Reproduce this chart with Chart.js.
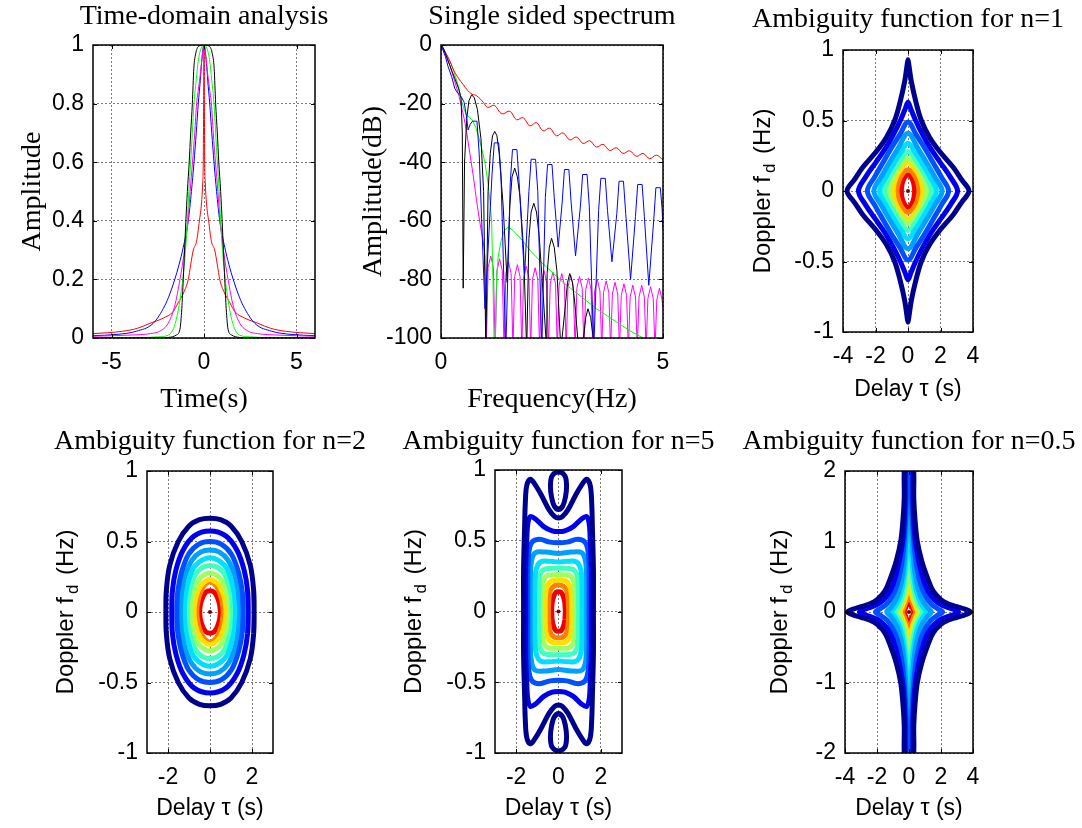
<!DOCTYPE html>
<html><head><meta charset="utf-8">
<script src="https://cdn.jsdelivr.net/npm/chart.js@4.4.1/dist/chart.umd.min.js"></script>
<style>
html,body{margin:0;padding:0;background:#fff;}
body{width:1082px;height:828px;position:relative;overflow:hidden;}
canvas{position:absolute;}
</style></head><body>
<canvas id="p1"></canvas><canvas id="p2"></canvas><canvas id="p3"></canvas>
<canvas id="p4"></canvas><canvas id="p5"></canvas><canvas id="p6"></canvas>
<script>
// ---------------- DATA ----------------
// Panel 1: time-domain pulses (right half, t >= 0; the pulses are even in t)
const tdTicksX = [-5, 0, 5];
const tdTicksY = [0, 0.2, 0.4, 0.6, 0.8, 1];
const tdBlack   = [[0,1],[0.3,0.995],[0.45,0.97],[0.55,0.92],[0.63,0.8],[0.72,0.7],[0.8,0.6],[0.9,0.5],[0.98,0.4],[1.05,0.3],[1.12,0.2],[1.2,0.1],[1.3,0.03],[1.5,0.01],[1.9,0.002],[2.5,0],[6,0]];
const tdGreen   = [[0,1],[0.15,0.99],[0.3,0.95],[0.42,0.88],[0.54,0.8],[0.63,0.7],[0.72,0.6],[0.82,0.5],[0.9,0.4],[1.0,0.3],[1.15,0.2],[1.35,0.11],[1.55,0.05],[1.75,0.02],[2.0,0.008],[2.5,0.004],[3.5,0.001],[6,0]];
const tdMagenta = [[0,1],[0.1,0.96],[0.2,0.9],[0.3,0.85],[0.4,0.8],[0.5,0.7],[0.62,0.6],[0.75,0.5],[0.87,0.4],[1.05,0.3],[1.3,0.2],[1.58,0.11],[1.94,0.05],[2.4,0.023],[2.9,0.015],[4,0.01],[6,0.006]];
const tdBlue    = [[0,1],[0.13,0.94],[0.2,0.88],[0.31,0.8],[0.42,0.7],[0.54,0.6],[0.68,0.5],[0.85,0.4],[1.12,0.31],[1.35,0.25],[1.58,0.2],[1.85,0.15],[2.12,0.11],[2.75,0.05],[3.66,0.023],[4.75,0.012],[6,0.008]];
const tdRed     = [[0,1],[0.02,0.8],[0.04,0.6],[0.07,0.53],[0.15,0.45],[0.25,0.4],[0.4,0.33],[0.58,0.3],[0.72,0.25],[0.85,0.2],[1.1,0.155],[1.4,0.12],[1.67,0.09],[2.2,0.068],[2.93,0.05],[3.6,0.033],[4.4,0.023],[5.2,0.018],[6,0.015]];

// Panel 2: single sided spectrum [f (Hz), dB]
const spTicksX = [0, 5];
const spTicksY = [-100, -80, -60, -40, -20, 0];
const spRed = [[0,0],[0.1,-2.5],[0.2,-5.5],[0.3,-9],[0.4,-11.5],[0.5,-13.5],[0.6,-15.5],[0.7,-16.8],[0.8,-17.3],[0.95,-19.5],[1.05,-21.3],[1.2,-20.6],[1.37,-23.5],[1.55,-22.6],[1.7,-25.5],[1.85,-24.8],[2.0,-27.6],[2.15,-26.5],[2.3,-29.3],[2.45,-28.4],[2.6,-31],[2.75,-30],[2.9,-32.4],[3.05,-31.4],[3.2,-33.6],[3.35,-32.7],[3.5,-34.8],[3.65,-33.9],[3.8,-36],[3.95,-35.1],[4.1,-37],[4.25,-36.1],[4.4,-38],[4.55,-37],[4.7,-38.8],[4.85,-37.6],[5.0,-39.2]];
const spBlue = [[0,0],[0.05,-2],[0.1,-4],[0.16,-7.4],[0.24,-10.8],[0.31,-14.8],[0.38,-16.5],[0.45,-17.5],[0.52,-19.5],[0.57,-24],[0.61,-29],
 [0.66,-27],[0.71,-26],[0.81,-26],[0.86,-37],[0.99,-90],
 [1.15,-44],[1.2,-33.4],[1.3,-33.4],[1.35,-44],[1.46,-104],
 [1.56,-47],[1.61,-35.7],[1.71,-35.7],[1.76,-47],[1.88,-79],
 [1.98,-50],[2.03,-39],[2.13,-39],[2.18,-50],[2.27,-104],
 [2.35,-52],[2.4,-40.8],[2.5,-40.8],[2.55,-52],[2.64,-69],
 [2.73,-53.5],[2.78,-42.5],[2.88,-42.5],[2.93,-53.5],[3.03,-72],
 [3.14,-55],[3.19,-44.2],[3.29,-44.2],[3.34,-55],[3.44,-104],
 [3.55,-56.5],[3.6,-45.5],[3.7,-45.5],[3.75,-56.5],[3.85,-74],
 [3.96,-57.5],[4.01,-46.5],[4.11,-46.5],[4.16,-57.5],[4.27,-80],
 [4.38,-58.5],[4.43,-47.6],[4.53,-47.6],[4.58,-58.5],[4.68,-82],
 [4.79,-60],[4.84,-48.7],[4.94,-48.7],[4.98,-56],[5.0,-63]];
const spBlack = [[0,0],[0.05,-1],[0.1,-3],[0.15,-5],[0.2,-7],[0.25,-9],[0.3,-11],[0.35,-13],[0.4,-15],[0.45,-18],[0.48,-30],[0.5,-83],[0.53,-40],[0.58,-25],[0.63,-19],[0.69,-17],[0.75,-18],[0.82,-22],[0.9,-32],[0.96,-50],[1.01,-104],
 [1.06,-50],[1.11,-37],[1.16,-31],[1.21,-29.5],[1.26,-31],[1.31,-37],[1.4,-55],[1.49,-81],
 [1.55,-55],[1.6,-45],[1.66,-42],[1.72,-45],[1.78,-52],[1.86,-70],[1.93,-104],
 [1.98,-66],[2.03,-57],[2.09,-54],[2.15,-57],[2.21,-65],[2.3,-85],[2.38,-104],
 [2.39,-78],[2.44,-69],[2.49,-66],[2.55,-69],[2.61,-77],[2.7,-104],
 [2.8,-89],[2.85,-81],[2.9,-78],[2.96,-81],[3.02,-89],[3.1,-104],
 [3.21,-100],[3.26,-93],[3.31,-90],[3.37,-93],[3.43,-100],[3.5,-110]];
const spGreen = [[0,0],[0.05,-1],[0.1,-2.5],[0.2,-5.5],[0.3,-9.5],[0.4,-14.5],[0.46,-19],[0.52,-22],[0.58,-24],[0.64,-24.7],[0.7,-25.5],[0.78,-28],[0.86,-32],[0.93,-36],[0.99,-40.3],[1.05,-46],[1.1,-53],[1.14,-60],[1.17,-80],[1.2,-104],[1.22,-104],[1.25,-80],[1.29,-72],[1.35,-67],[1.42,-63.5],[1.51,-62],[1.58,-62.8],[1.7,-64.5],[1.85,-67],[2.0,-70],[2.25,-74],[2.5,-77.5],[2.75,-81],[3.0,-84],[3.25,-87],[3.5,-90],[3.75,-92.5],[4.0,-95],[4.25,-97.5],[4.55,-100],[4.7,-102]];
const spMagenta = [[0,0],[0.05,-1.5],[0.1,-3],[0.2,-7],[0.3,-12],[0.4,-17],[0.46,-21],[0.52,-25],[0.58,-30],[0.65,-37],[0.73,-45],[0.8,-53],[0.88,-61],[0.95,-67],[0.99,-72],[1.02,-104],
 [1.06,-76],[1.12,-72],[1.18,-76],[1.22,-104],
 [1.26,-77],[1.32,-73],[1.38,-77],[1.42,-104],
 [1.46,-78],[1.52,-74],[1.58,-78],[1.62,-104],
 [1.66,-79],[1.72,-75],[1.78,-79],[1.82,-104],
 [1.86,-79.5],[1.92,-75.5],[1.98,-79.5],[2.02,-104],
 [2.06,-80],[2.12,-76],[2.18,-80],[2.22,-104],
 [2.26,-81],[2.32,-77],[2.38,-81],[2.42,-104],
 [2.46,-81.5],[2.52,-77.5],[2.58,-81.5],[2.62,-104],
 [2.66,-82],[2.72,-78],[2.78,-82],[2.82,-104],
 [2.86,-82.5],[2.92,-78.5],[2.98,-82.5],[3.02,-104],
 [3.06,-83],[3.12,-79],[3.18,-83],[3.22,-104],
 [3.26,-83.5],[3.32,-79.5],[3.38,-83.5],[3.42,-104],
 [3.46,-84],[3.52,-80],[3.58,-84],[3.62,-104],
 [3.66,-84.5],[3.72,-80.5],[3.78,-84.5],[3.82,-104],
 [3.86,-85],[3.92,-81],[3.98,-85],[4.02,-104],
 [4.06,-85.5],[4.12,-81.5],[4.18,-85.5],[4.22,-104],
 [4.26,-86],[4.32,-82],[4.38,-86],[4.42,-104],
 [4.46,-86],[4.52,-82],[4.58,-86],[4.62,-104],
 [4.66,-86.5],[4.72,-82.5],[4.78,-86.5],[4.82,-104],
 [4.86,-87],[4.92,-83],[4.98,-87],[5.0,-90]];

// Ambiguity contours: first-quadrant traces (from the tau axis to the Doppler axis),
// outermost level first; each contour is symmetric in tau and f_d.
const contourColors = ['#00008F','#0000EF','#0050FF','#00A0FF','#00DFFF','#40FFBF','#9FFF60','#FFDF00','#FF8000','#F00000'];
const amb1 = [
 [[3.75,0],[3.3,0.08],[2.77,0.17],[1.95,0.28],[1.33,0.38],[0.82,0.5],[0.47,0.64],[0.2,0.78],[0.06,0.89],[0,0.93]],
 [[3.05,0],[2.6,0.1],[2.0,0.2],[1.4,0.3],[0.9,0.4],[0.47,0.5],[0.18,0.58],[0,0.63]],
 [[2.5,0],[2.05,0.1],[1.55,0.2],[1.05,0.3],[0.5,0.4],[0,0.49]],
 [[2.1,0],[1.65,0.1],[1.15,0.2],[0.62,0.3],[0,0.41]],
 [[1.75,0],[1.35,0.1],[0.85,0.2],[0.4,0.28],[0,0.34]],
 [[1.45,0],[1.12,0.1],[0.65,0.19],[0.3,0.25],[0,0.28]],
 [[1.17,0],[0.93,0.1],[0.5,0.18],[0,0.23]],
 [[0.92,0],[0.76,0.09],[0.4,0.16],[0,0.2]],
 [[0.68,0],[0.57,0.07],[0.32,0.125],[0,0.15]],
 [[0.41,0],[0.35,0.055],[0.2,0.097],[0,0.116]]
];
const amb2 = [
 [[2.1,0],[2.08,0.15],[1.92,0.33],[1.51,0.5],[1.0,0.61],[0.5,0.655],[0,0.665]],
 [[1.82,0],[1.79,0.15],[1.62,0.3],[1.28,0.44],[0.75,0.54],[0,0.575]],
 [[1.58,0],[1.54,0.14],[1.36,0.28],[1.02,0.41],[0.55,0.48],[0,0.5]],
 [[1.41,0],[1.36,0.13],[1.18,0.26],[0.85,0.37],[0.45,0.425],[0,0.44]],
 [[1.22,0],[1.17,0.12],[1.0,0.23],[0.7,0.33],[0,0.385]],
 [[1.09,0],[1.04,0.1],[0.87,0.2],[0.58,0.29],[0,0.33]],
 [[0.93,0],[0.88,0.09],[0.72,0.17],[0.47,0.24],[0,0.276]],
 [[0.76,0],[0.71,0.08],[0.57,0.15],[0.36,0.2],[0,0.23]],
 [[0.63,0],[0.58,0.07],[0.45,0.14],[0.27,0.19],[0,0.214]],
 [[0.49,0],[0.46,0.05],[0.36,0.1],[0.2,0.14],[0,0.15]]
];
const amb5 = [
 [[1.65,0],[1.65,0.3],[1.6,0.6],[1.57,0.76],[1.5,0.89],[1.33,0.935],[1.12,0.9],[0.8,0.82],[0.45,0.72],[0.18,0.67],[0,0.66]],
 [[1.55,0],[1.55,0.3],[1.5,0.5],[1.45,0.62],[1.33,0.67],[1.1,0.655],[0.7,0.6],[0.3,0.57],[0,0.565]],
 [[1.45,0],[1.45,0.25],[1.4,0.42],[1.25,0.49],[0.9,0.51],[0.4,0.49],[0,0.485]],
 [[1.33,0],[1.33,0.2],[1.28,0.35],[1.1,0.415],[0.6,0.42],[0,0.41]],
 [[1.12,0],[1.12,0.18],[1.05,0.3],[0.85,0.35],[0.4,0.355],[0,0.35]],
 [[0.95,0],[0.94,0.15],[0.87,0.26],[0.65,0.3],[0,0.305]],
 [[0.79,0],[0.78,0.13],[0.7,0.22],[0.5,0.255],[0,0.26]],
 [[0.63,0],[0.62,0.1],[0.54,0.18],[0.35,0.215],[0,0.222]],
 [[0.48,0],[0.46,0.08],[0.38,0.15],[0.22,0.18],[0,0.187]],
 [[0.32,0],[0.3,0.06],[0.22,0.11],[0.12,0.135],[0,0.14]]
];
const amb5Island = [[0,0.72],[0.2,0.745],[0.33,0.81],[0.38,0.89],[0.3,0.96],[0,0.985]]; // right half of the small loop near f_d = +/-0.85
const amb05 = [
 [[3.85,0],[3.5,0.04],[3.0,0.075],[2.4,0.12],[1.97,0.18],[1.5,0.3],[1.16,0.48],[0.8,0.72],[0.52,1.0],[0.38,1.3],[0.3,1.6],[0.26,2.1],[0,2.1]],
 [[3.1,0],[2.8,0.035],[2.3,0.075],[1.8,0.13],[1.4,0.22],[1.05,0.36],[0.75,0.58],[0.5,0.85],[0.35,1.1],[0.25,1.5],[0.2,2.1],[0,2.1]],
 [[2.1,0],[1.8,0.045],[1.4,0.11],[1.05,0.22],[0.75,0.38],[0.5,0.62],[0.35,0.88],[0.24,1.2],[0.16,1.6],[0.13,2.1],[0,2.1]],
 [[1.4,0],[1.15,0.06],[0.85,0.16],[0.6,0.3],[0.4,0.52],[0.27,0.78],[0.18,1.1],[0.11,1.45],[0,1.6]],
 [[1.1,0],[0.88,0.07],[0.63,0.18],[0.43,0.33],[0.28,0.54],[0.17,0.8],[0.09,1.05],[0,1.15]],
 [[0.88,0],[0.68,0.09],[0.45,0.2],[0.28,0.38],[0.15,0.6],[0,0.8]],
 [[0.7,0],[0.52,0.09],[0.33,0.2],[0.18,0.36],[0,0.55]],
 [[0.55,0],[0.42,0.08],[0.25,0.18],[0.12,0.28],[0,0.36]],
 [[0.42,0],[0.3,0.07],[0.17,0.15],[0,0.24]],
 [[0.3,0],[0.22,0.055],[0.12,0.11],[0,0.16]]
];
const ambTicks4 = [-4, -2, 0, 2, 4];
const ambTicks2 = [-2, 0, 2];
const ambTicksY1 = [-1, -0.5, 0, 0.5, 1];
const ambTicksY2 = [-2, -1, 0, 1, 2];

const titles = ['Time-domain analysis','Single sided spectrum','Ambiguity function for n=1','Ambiguity function for n=2','Ambiguity function for n=5','Ambiguity function for n=0.5'];
const dopplerLabel = ['Doppler f', 'd', ' (Hz)'];
const delayLabel = 'Delay \u03C4 (s)';

// ---------------- HELPERS ----------------
const SERIF = '"Liberation Serif", "Times New Roman", serif';
const SANS = '"Liberation Sans", Arial, sans-serif';
const TITLE_SIZE = 28, TICK_SIZE = 23, SANS_LABEL = 23;
const GRID = '#7a7a7a';

function evenPulse(half) {
  const left = half.slice(1).reverse().map(([t, v]) => ({x: -t, y: v}));
  return left.concat(half.map(([t, v]) => ({x: t, y: v})));
}
function pairs(arr) { return arr.map(([x, y]) => ({x, y})); }
function wrapLoop(loop) { // repeat neighbours so the curve closes smoothly
  const n = loop.length;
  return [loop[n - 2]].concat(loop, [loop[1]]).map(([x, y]) => ({x, y}));
}
function quadLoop(q) {
  const q2 = q.slice(0, -1).reverse().map(([x, y]) => [-x, y]);
  const q3 = q.slice(1).map(([x, y]) => [-x, -y]);
  const q4 = q.slice(0, -1).reverse().map(([x, y]) => [x, -y]);
  return wrapLoop(q.concat(q2, q3, q4));
}
function halfLoopX(h, sy) {
  const right = h.map(([x, y]) => [x, sy * y]);
  const left = h.slice(1, -1).reverse().map(([x, y]) => [-x, sy * y]);
  return wrapLoop(right.concat(left, [right[0]]));
}
function lineDs(data, color, width, extra) {
  return Object.assign({data, borderColor: color, backgroundColor: color, borderWidth: width, showLine: true, pointRadius: 0, fill: false}, extra || {});
}
function contourSets(levels, extraLoops) {
  const ds = [];
  levels.forEach((q, i) => {
    ds.push(lineDs(quadLoop(q), contourColors[i], 5, {tension: 0.35, clip: 0}));
    if (i === 0 && extraLoops) extraLoops.forEach(l => ds.push(lineDs(l, contourColors[0], 5, {tension: 0.35, clip: 0})));
  });
  ds.push({data: [{x: 0, y: 0}], pointRadius: 2, pointBackgroundColor: '#800000', pointBorderWidth: 0, showLine: false});
  return ds;
}

const frame = {
  id: 'frame',
  afterDatasetsDraw(chart) {
    const {ctx, chartArea: a, scales} = chart;
    ctx.save();
    ctx.strokeStyle = '#000';
    ctx.lineWidth = 1;
    ctx.beginPath();
    const tl = 4;
    scales.x.ticks.forEach(t => {
      const px = Math.round(scales.x.getPixelForValue(t.value)) + 0.5;
      ctx.moveTo(px, a.bottom); ctx.lineTo(px, a.bottom - tl);
      ctx.moveTo(px, a.top); ctx.lineTo(px, a.top + tl);
    });
    scales.y.ticks.forEach(t => {
      const py = Math.round(scales.y.getPixelForValue(t.value)) + 0.5;
      ctx.moveTo(a.left, py); ctx.lineTo(a.left + tl, py);
      ctx.moveTo(a.right, py); ctx.lineTo(a.right - tl, py);
    });
    ctx.stroke();
    ctx.lineWidth = 1.5;
    ctx.strokeRect(a.left, a.top, a.right - a.left, a.bottom - a.top);
    ctx.restore();
  }
};
function dopplerPlugin(xc, size) {
  return {
    id: 'doppler',
    afterDraw(chart) {
      const {ctx, chartArea: a} = chart;
      ctx.save();
      ctx.translate(xc, (a.top + a.bottom) / 2);
      ctx.rotate(-Math.PI / 2);
      ctx.fillStyle = '#000';
      ctx.textBaseline = 'middle';
      ctx.textAlign = 'left';
      const big = size + 'px ' + SANS, small = Math.round(size * 0.7) + 'px ' + SANS;
      ctx.font = big;
      const w1 = ctx.measureText(dopplerLabel[0]).width, w3 = ctx.measureText(dopplerLabel[2]).width;
      ctx.font = small;
      const w2 = ctx.measureText(dopplerLabel[1]).width;
      const gap = 3;
      let x = -(w1 + w2 + w3 + 2 * gap) / 2;
      ctx.font = big; ctx.fillText(dopplerLabel[0], x, 0); x += w1 + gap;
      ctx.font = small; ctx.fillText(dopplerLabel[1], x, 7); x += w2 + gap;
      ctx.font = big; ctx.fillText(dopplerLabel[2], x, 0);
      ctx.restore();
    }
  };
}

function makePanel(id, p) {
  // side boxes are equal on both sides so the full-width title is centred over the plot
  const yw = Math.max(p.L - p.yTitleX + 20, 120);
  const cl = p.L - yw;
  const ylx = p.yTitleX - cl;           // y-label centre inside the canvas
  const W = p.R - p.L;
  const cw = 2 * yw + W;
  const ct = p.titleY - 24;
  const cb = p.xTitleY + 24;
  const ch = cb - ct;
  const xh = cb - p.B;
  const cv = document.getElementById(id);
  cv.width = cw; cv.height = ch;
  Object.assign(cv.style, {left: cl + 'px', top: ct + 'px', width: cw + 'px', height: ch + 'px'});
  const tLH = TITLE_SIZE * 1.2;
  const tTop = 24 - tLH / 2;
  const tBottom = (p.T - ct) - tLH - tTop;
  const axLH = p.axisSize * 1.2;
  const tickCfg = {color: '#000', font: {family: SANS, size: TICK_SIZE}, callback: v => String(v), maxRotation: 0, minRotation: 0, autoSkip: false};
  new Chart(cv, {
    type: 'scatter',
    data: {datasets: p.datasets},
    options: {
      responsive: false, animation: false, devicePixelRatio: 1,
      layout: {padding: 0},
      plugins: {
        legend: {display: false}, tooltip: {enabled: false},
        title: {display: true, text: p.title, fullSize: true, color: '#000', font: {family: SERIF, size: TITLE_SIZE, weight: 'normal'}, padding: {top: tTop, bottom: tBottom}}
      },
      scales: {
        x: {
          type: 'linear', position: 'bottom', min: p.xMin, max: p.xMax,
          afterBuildTicks: s => { s.ticks = p.xTicks.map(v => ({value: v})); },
          afterFit: s => { s.height = xh; },
          ticks: Object.assign({padding: 11}, tickCfg),
          grid: {color: GRID, lineWidth: 1, drawTicks: false},
          border: {display: false, dash: [2, 2]},
          title: {display: true, text: p.xTitle, color: '#000', font: {family: p.axisFont, size: p.axisSize}, padding: {top: 0, bottom: 24 - axLH / 2}}
        },
        y: {
          type: 'linear', position: 'left', min: p.yMin, max: p.yMax,
          afterBuildTicks: s => { s.ticks = p.yTicks.map(v => ({value: v})); },
          afterFit: s => { s.width = yw; },
          ticks: Object.assign({padding: 9}, tickCfg),
          grid: {color: GRID, lineWidth: 1, drawTicks: false},
          border: {display: false, dash: [2, 2]},
          title: p.yTitle ? {display: true, text: p.yTitle, color: '#000', font: {family: p.axisFont, size: p.axisSize}, padding: {top: ylx - axLH / 2, bottom: 0}} : {display: false}
        },
        yR: {
          type: 'linear', position: 'right', min: 0, max: 1,
          afterFit: s => { s.width = yw; },
          ticks: {display: false}, grid: {display: false}, border: {display: false}
        }
      }
    },
    plugins: [frame].concat(p.doppler ? [dopplerPlugin(ylx, p.axisSize + 1)] : [])
  });
}

// ---------------- PANELS ----------------
makePanel('p1', {
  L: 93, T: 45, R: 315, B: 338, titleY: 17, yTitleX: 33, xTitleY: 400,
  title: titles[0], xTitle: 'Time(s)', yTitle: 'Amplitude', axisFont: SERIF, axisSize: TITLE_SIZE,
  xMin: -6, xMax: 6, yMin: 0, yMax: 1, xTicks: tdTicksX, yTicks: tdTicksY,
  datasets: [
    lineDs(evenPulse(tdBlack), '#000000', 1, {cubicInterpolationMode: 'monotone'}),
    lineDs(evenPulse(tdGreen), '#00FF00', 1, {cubicInterpolationMode: 'monotone'}),
    lineDs(evenPulse(tdMagenta), '#FF00FF', 1, {cubicInterpolationMode: 'monotone'}),
    lineDs(evenPulse(tdBlue), '#0000FF', 1, {cubicInterpolationMode: 'monotone'}),
    lineDs(evenPulse(tdRed), '#FF0000', 1, {cubicInterpolationMode: 'monotone'})
  ]
});
makePanel('p2', {
  L: 441, T: 45, R: 663, B: 338, titleY: 17, yTitleX: 374, xTitleY: 400,
  title: titles[1], xTitle: 'Frequency(Hz)', yTitle: 'Amplitude(dB)', axisFont: SERIF, axisSize: TITLE_SIZE,
  xMin: 0, xMax: 5, yMin: -100, yMax: 0, xTicks: spTicksX, yTicks: spTicksY,
  datasets: [
    lineDs(pairs(spBlue), '#0000FF', 1),
    lineDs(pairs(spBlack), '#000000', 1),
    lineDs(pairs(spRed), '#FF0000', 1, {tension: 0.4}),
    lineDs(pairs(spGreen), '#00FF00', 1),
    lineDs(pairs(spMagenta), '#FF00FF', 1)
  ]
});
makePanel('p3', {
  L: 843, T: 50, R: 973, B: 332, titleY: 20, yTitleX: 763, xTitleY: 390,
  title: titles[2], xTitle: delayLabel, yTitle: null, doppler: true, axisFont: SANS, axisSize: SANS_LABEL,
  xMin: -4, xMax: 4, yMin: -1, yMax: 1, xTicks: ambTicks4, yTicks: ambTicksY1,
  datasets: contourSets(amb1)
});
makePanel('p4', {
  L: 147, T: 471, R: 273, B: 753, titleY: 442, yTitleX: 66, xTitleY: 809,
  title: titles[3], xTitle: delayLabel, yTitle: null, doppler: true, axisFont: SANS, axisSize: SANS_LABEL,
  xMin: -3, xMax: 3, yMin: -1, yMax: 1, xTicks: ambTicks2, yTicks: ambTicksY1,
  datasets: contourSets(amb2)
});
makePanel('p5', {
  L: 495, T: 470, R: 622, B: 753, titleY: 442, yTitleX: 414, xTitleY: 809,
  title: titles[4], xTitle: delayLabel, yTitle: null, doppler: true, axisFont: SANS, axisSize: SANS_LABEL,
  xMin: -3, xMax: 3, yMin: -1, yMax: 1, xTicks: ambTicks2, yTicks: ambTicksY1,
  datasets: contourSets(amb5, [halfLoopX(amb5Island, 1), halfLoopX(amb5Island, -1)])
});
makePanel('p6', {
  L: 845, T: 471, R: 973, B: 753, titleY: 442, yTitleX: 780, xTitleY: 809,
  title: titles[5], xTitle: delayLabel, yTitle: null, doppler: true, axisFont: SANS, axisSize: SANS_LABEL,
  xMin: -4, xMax: 4, yMin: -2, yMax: 2, xTicks: ambTicks4, yTicks: ambTicksY2,
  datasets: contourSets(amb05)
});
</script>
</body></html>
